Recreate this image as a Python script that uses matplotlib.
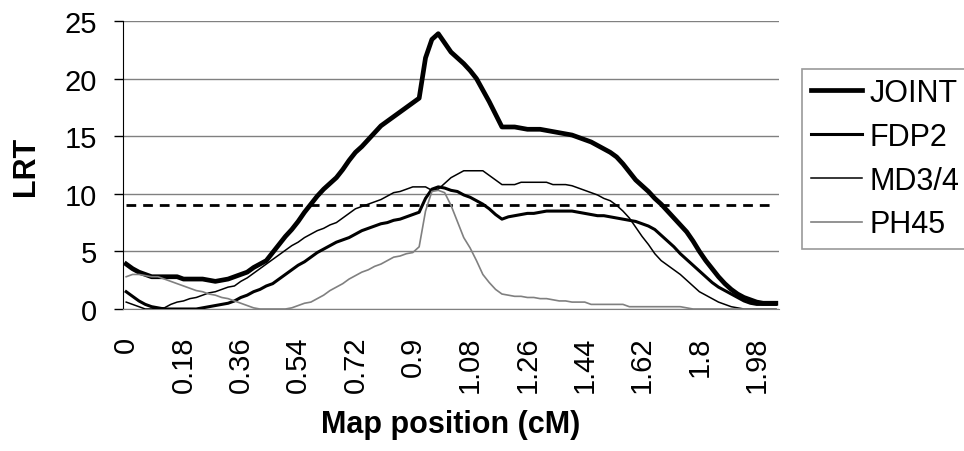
import numpy as np
import matplotlib
matplotlib.use("Agg")
import matplotlib.pyplot as plt

plt.rcParams['font.family'] = ['Liberation Sans', 'DejaVu Sans']

# map positions (cM), one category every 0.02 cM
positions = np.round(np.arange(0, 2.05, 0.02), 2)
tick_every = 9

joint = [3.9, 3.5, 3.2, 3.0, 2.8, 2.8, 2.8, 2.8, 2.8, 2.6,
         2.6, 2.6, 2.6, 2.5, 2.4, 2.5, 2.6, 2.8, 3.0, 3.2,
         3.6, 3.9, 4.2, 4.9, 5.6, 6.3, 6.9, 7.6, 8.4, 9.1,
         9.8, 10.4, 10.9, 11.4, 12.1, 12.9, 13.6, 14.1, 14.7, 15.3,
         15.9, 16.3, 16.7, 17.1, 17.5, 17.9, 18.3, 21.8, 23.4, 23.9,
         23.1, 22.3, 21.8, 21.3, 20.7, 20.0, 19.0, 18.0, 16.9, 15.8,
         15.8, 15.8, 15.7, 15.6, 15.6, 15.6, 15.5, 15.4, 15.3, 15.2,
         15.1, 14.9, 14.7, 14.5, 14.2, 13.9, 13.6, 13.2, 12.6, 11.9,
         11.2, 10.7, 10.2, 9.6, 9.1, 8.5, 7.9, 7.3, 6.7, 5.9,
         5.0, 4.2, 3.5, 2.8, 2.2, 1.7, 1.3, 1.0, 0.8, 0.6,
         0.5, 0.5, 0.5]
fdp2 = [1.5, 1.1, 0.7, 0.4, 0.2, 0.1, 0.0, 0.0, 0.0, 0.0,
        0.0, 0.0, 0.1, 0.2, 0.3, 0.4, 0.5, 0.7, 1.0, 1.2,
        1.5, 1.7, 2.0, 2.2, 2.6, 3.0, 3.4, 3.8, 4.1, 4.5,
        4.9, 5.2, 5.5, 5.8, 6.0, 6.2, 6.5, 6.8, 7.0, 7.2,
        7.4, 7.5, 7.7, 7.8, 8.0, 8.2, 8.4, 9.6, 10.4, 10.6,
        10.5, 10.3, 10.2, 9.9, 9.7, 9.4, 9.1, 8.7, 8.2, 7.8,
        8.0, 8.1, 8.2, 8.3, 8.3, 8.4, 8.5, 8.5, 8.5, 8.5,
        8.5, 8.4, 8.3, 8.2, 8.1, 8.1, 8.0, 7.9, 7.8, 7.7,
        7.6, 7.4, 7.2, 6.9, 6.4, 5.9, 5.4, 4.8, 4.3, 3.8,
        3.3, 2.8, 2.3, 1.9, 1.6, 1.3, 1.0, 0.7, 0.5, 0.4,
        0.4, 0.4, 0.4]
md34 = [0.6, 0.4, 0.2, 0.0, 0.0, 0.1, 0.1, 0.4, 0.6, 0.7,
        0.9, 1.0, 1.2, 1.4, 1.5, 1.7, 1.9, 2.0, 2.4, 2.7,
        3.1, 3.5, 3.9, 4.3, 4.7, 5.1, 5.5, 5.8, 6.2, 6.5,
        6.8, 7.0, 7.3, 7.5, 7.9, 8.3, 8.7, 8.9, 9.1, 9.3,
        9.5, 9.8, 10.1, 10.2, 10.4, 10.6, 10.6, 10.6, 10.3, 10.4,
        10.9, 11.4, 11.7, 12.0, 12.0, 12.0, 12.0, 11.6, 11.2, 10.8,
        10.8, 10.8, 11.0, 11.0, 11.0, 11.0, 11.0, 10.8, 10.8, 10.8,
        10.7, 10.5, 10.3, 10.1, 9.9, 9.6, 9.4, 9.0, 8.5, 7.9,
        7.1, 6.3, 5.6, 4.8, 4.2, 3.8, 3.4, 3.0, 2.5, 2.0,
        1.5, 1.2, 0.9, 0.6, 0.4, 0.2, 0.1, 0.0, 0.0, 0.0,
        0.0, 0.0, 0.0]
ph45 = [2.8, 3.0, 3.0, 2.9, 2.8, 2.8, 2.6, 2.4, 2.2, 2.0,
        1.8, 1.6, 1.5, 1.3, 1.2, 1.0, 0.9, 0.7, 0.5, 0.3,
        0.1, 0.0, 0.0, 0.0, 0.0, 0.0, 0.1, 0.3, 0.5, 0.6,
        0.9, 1.2, 1.6, 1.9, 2.2, 2.6, 2.9, 3.2, 3.4, 3.7,
        3.9, 4.2, 4.5, 4.6, 4.8, 4.9, 5.4, 8.5, 10.2, 10.3,
        10.1, 9.0, 7.6, 6.2, 5.3, 4.2, 3.0, 2.3, 1.7, 1.3,
        1.2, 1.1, 1.1, 1.0, 1.0, 0.9, 0.9, 0.8, 0.7, 0.7,
        0.6, 0.6, 0.6, 0.4, 0.4, 0.4, 0.4, 0.4, 0.4, 0.2,
        0.2, 0.2, 0.2, 0.2, 0.2, 0.2, 0.2, 0.2, 0.1, 0.0,
        0.0, 0.0, 0.0, 0.0, 0.0, 0.0, 0.0, 0.0, 0.0, 0.0,
        0.0, 0.0, 0.0]
threshold = 9.0

fig = plt.figure(figsize=(9.64, 4.52), dpi=100)
ax = fig.add_axes([123 / 964, 1 - 310 / 452, 656 / 964, 288 / 452])

idx = np.arange(len(positions))
ax.plot(idx, [threshold] * len(idx), color='black', lw=2.0, ls=(0, (3.5, 2.5)), zorder=3)
ax.plot(idx, joint, color='black', lw=3.4, label='JOINT', zorder=4)
ax.plot(idx, fdp2, color='black', lw=2.2, label='FDP2', zorder=4)
ax.plot(idx, md34, color='black', lw=1.1, label='MD3/4', zorder=4)
ax.plot(idx, ph45, color='#808080', lw=1.2, label='PH45', zorder=4)

ax.set_xlim(-0.5, len(idx) - 0.5)
ax.set_ylim(0, 25)
ax.set_yticks(range(0, 26, 5))
ax.yaxis.grid(True, color='#808080', lw=1.0)
ax.set_axisbelow(True)
ax.set_xticks(idx[::tick_every])
ax.set_xticklabels([f"{p:g}" for p in positions[::tick_every]], rotation=90, va='top')
ax.tick_params(axis='x', length=0, pad=19, labelsize=21)
ax.tick_params(axis='y', length=6.5, width=1, pad=12, labelsize=21, direction='out')

for s in ['top', 'right']:
    ax.spines[s].set_visible(False)
ax.spines['left'].set_color('black')
ax.spines['bottom'].set_color('#808080')

ax.set_ylabel('LRT', fontsize=22, fontweight='bold', labelpad=17)
ax.set_xlabel('Map position (cM)', fontsize=22, fontweight='bold', labelpad=12)

leg = fig.legend(loc='upper left', bbox_to_anchor=(802 / 964, 1 - 70 / 452),
                 fontsize=22, frameon=True, fancybox=False, edgecolor='#808080',
                 handlelength=1.67, handletextpad=0.23, labelspacing=0.45,
                 borderpad=0.3, borderaxespad=0)
leg.get_frame().set_linewidth(1.2)

fig.savefig('out.png', dpi=100)
